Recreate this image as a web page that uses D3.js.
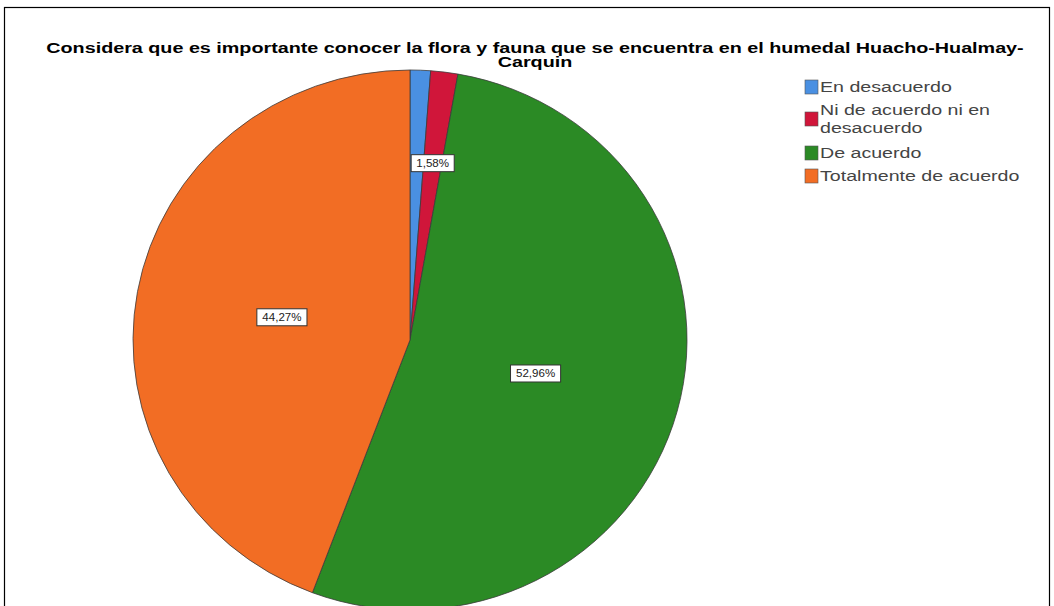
<!DOCTYPE html>
<html>
<head>
<meta charset="utf-8">
<script src="https://cdn.jsdelivr.net/npm/d3@7"></script>
<style>
  body { margin: 0; background: #fff; }
  text { font-family: "Liberation Sans", Arial, sans-serif; }
</style>
</head>
<body>
<script>
// data
var categories = ["En desacuerdo", "Ni de acuerdo ni en desacuerdo", "De acuerdo", "Totalmente de acuerdo"];
var legendLines = [["En desacuerdo"], ["Ni de acuerdo ni en", "desacuerdo"], ["De acuerdo"], ["Totalmente de acuerdo"]];
var percents = [1.19, 1.58, 52.96, 44.27];
var showLabel = [false, true, true, true];
var colors = ["#4a90e2", "#d0163a", "#2b8a25", "#f26d24"];
var titleLines = ["Considera que es importante conocer la flora y fauna que se encuentra en el humedal Huacho-Hualmay-", "Carquin"];

var W = 1054, H = 606;
var cx = 410, cy = 340, rx = 277, ry = 270;

var svg = d3.select("body").append("svg")
    .attr("width", W)
    .attr("height", H);

// frame
svg.append("rect")
    .attr("x", 4.5).attr("y", 7.5)
    .attr("width", 1045).attr("height", 620)
    .attr("fill", "#fff")
    .attr("stroke", "#000")
    .attr("stroke-width", 1.2);

// the text in the picture is drawn wide, so stretch it
function widen(k) {
  return function(sel) {
    sel.each(function() {
      var len = this.getComputedTextLength();
      d3.select(this).attr("textLength", len * k).attr("lengthAdjust", "spacingAndGlyphs");
    });
  };
}

// title
svg.selectAll(".title")
    .data(titleLines)
    .enter().append("text")
    .attr("class", "title")
    .attr("x", 535)
    .attr("y", function(d, i) { return 53 + i * 14; })
    .attr("text-anchor", "middle")
    .attr("font-size", 14)
    .attr("font-weight", "bold")
    .attr("fill", "#000")
    .text(function(d) { return d; })
    .call(widen(1.41));

// pie
var pie = d3.pie().sort(null).value(function(d) { return d; });
var arcs = pie(percents);
var arc = d3.arc().innerRadius(0).outerRadius(rx);

var pieG = svg.append("g")
    .attr("transform", "translate(" + cx + "," + cy + ") scale(1," + (ry / rx) + ")");

pieG.selectAll("path")
    .data(arcs)
    .enter().append("path")
    .attr("d", arc)
    .attr("fill", function(d, i) { return colors[i]; })
    .attr("stroke", "#3a3a3a")
    .attr("stroke-width", 0.8);

// slice labels
var fmt = d3.formatLocale({decimal: ",", thousands: ".", grouping: [3], currency: ["", ""]}).format(".2f");

var labelG = svg.append("g");
arcs.forEach(function(a, i) {
  if (!showLabel[i]) return;
  var lr = percents[i] < 5 ? rx * 0.66 : rx * 0.47;
  var c = d3.arc().innerRadius(lr).outerRadius(lr).centroid(a);
  var x = cx + c[0], y = cy + c[1] * ry / rx;
  var g = labelG.append("g").attr("transform", "translate(" + x + "," + y + ")");
  var box = g.append("rect");
  var t = g.append("text")
      .attr("text-anchor", "middle")
      .attr("dy", "0.35em")
      .attr("font-size", 10.5)
      .attr("fill", "#222")
      .text(fmt(percents[i]) + "%")
      .call(widen(1.1));
  var w = t.node().getComputedTextLength() * 1.1 + 7;
  box.attr("x", -w / 2).attr("y", -8.5)
      .attr("width", w).attr("height", 17)
      .attr("fill", "#fff")
      .attr("stroke", "#333")
      .attr("stroke-width", 1);
});

// legend
var rowY = [87, 110, 153, 176];
var legend = svg.append("g");
categories.forEach(function(c, i) {
  var lines = legendLines[i];
  var midY = rowY[i] + (lines.length - 1) * 9;
  legend.append("rect")
      .attr("x", 805).attr("y", midY - 7)
      .attr("width", 13).attr("height", 14)
      .attr("fill", colors[i])
      .attr("stroke", "#555")
      .attr("stroke-width", 0.6);
  legend.selectAll(null)
      .data(lines)
      .enter().append("text")
      .attr("x", 820)
      .attr("y", function(d, j) { return rowY[i] + j * 18; })
      .attr("dy", "0.35em")
      .attr("font-size", 14)
      .attr("fill", "#444")
      .text(function(d) { return d; })
      .call(widen(1.4));
});
</script>
</body>
</html>
